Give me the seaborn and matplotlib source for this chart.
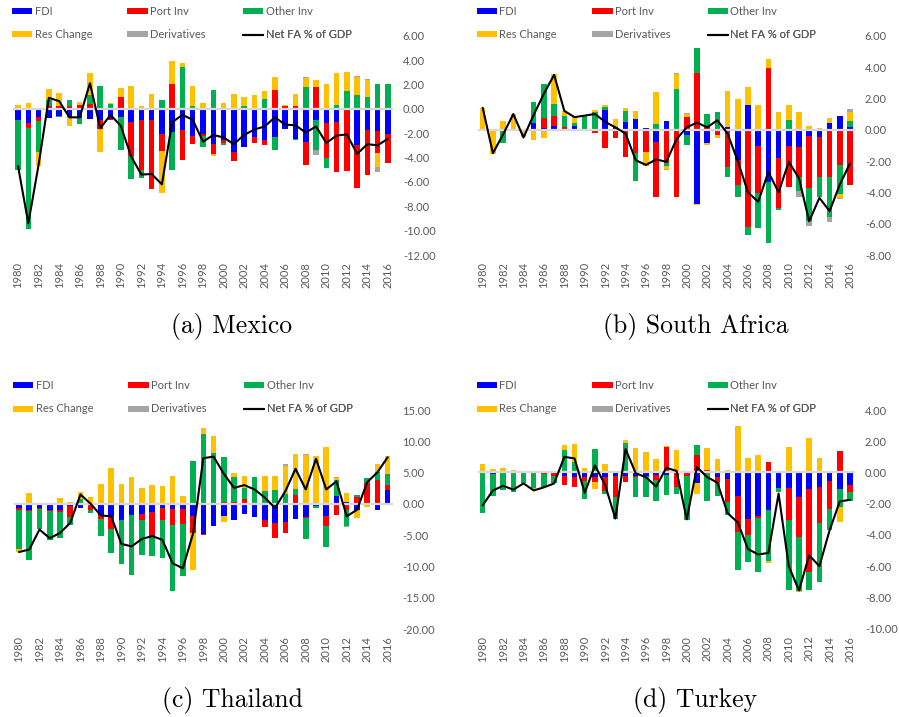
import numpy as np
import matplotlib
matplotlib.use("Agg")
import matplotlib.pyplot as plt
from matplotlib.patches import Patch
from matplotlib.lines import Line2D
import seaborn as sns

years = list(range(1980, 2017))

# ---------------- Mexico ----------------
mex_fdi = [-0.95, -1.2, -0.7, -0.75, -0.55, -0.7, -0.75, -0.8, -0.9, -0.8,
           -0.7, -1.1, -0.95, -0.9, -2.05, -1.9, -1.7, -2.2, -2.05, -2.9,
           -2.6, -3.55, -3.15, -2.3, -2.55, -2.3, -1.65, -2.45, -2.75, -0.9,
           -1.2, -1.1, 0.1, -2.95, -1.7, -1.85, -2.05]
mex_port = [0, -0.4, -0.33, 0.2, 0.2, 0.2, 0.35, 0.4, -0.75, -0.15,
            0.93, -2.8, -4.1, -5.7, -1.45, 2.0, -2.5, -0.7, -0.15, -0.85,
            -0.2, -0.7, 0, -0.5, -0.4, 1.55, 0.2, 0.2, -1.85, 1.75,
            -2.85, -4.1, -5.1, -3.55, -3.7, -1.8, -2.4]
mex_other = [-4.1, -8.3, -2.55, 0.5, -0.15, 0.5, -0.5, 0.7, 1.9, 0.4,
             -2.65, -1.85, -0.6, 0, 0.7, -3.15, 3.4, 0.2, -0.95, 1.55,
             -0.2, 0, 0.2, 0, 0.8, -1.05, 0, -0.15, 1.75, -2.45,
             -0.85, 0.35, 1.4, 1.1, 1.0, 2.05, 2.0]
mex_res = [0.3, 0.45, -1.15, 0.95, 1.1, -0.75, 0.17, 1.85, -1.9, 0.1,
           0.8, 1.85, 0.2, 1.25, -3.4, 1.9, 0.4, 1.7, 0.45, -0.1,
           0.5, 1.25, 0.75, 1.1, 0.65, 1.1, 0.15, 1.05, 0.8, 0.6,
           2.0, 2.6, 1.5, 1.55, 1.4, -1.15, 0]
mex_deriv = [0] * 28 + [0.1, -0.45, 0, 0, 0, 0.05, 0.05, -0.35, 0]
mex_net = [-4.7, -9.4, -4.6, 0.9, 0.63, -0.7, -0.7, 2.1, -1.6, -0.5,
           -1.4, -3.9, -5.4, -5.35, -6.2, -1.1, -0.5, -0.9, -2.7, -2.15,
           -2.35, -2.9, -2.15, -1.7, -1.45, -0.7, -1.3, -1.35, -1.95, -1.45,
           -2.8, -2.2, -2.1, -3.7, -2.9, -3.0, -2.45]

# ---------------- South Africa ----------------
zaf_fdi = [0, 0, 0, 0, 0, 0.4, 0.1, 0.25, -0.1, 0.25,
           0.05, 0, 1.25, 0.15, 0.5, 0.7, 0.1, -0.8, 0.55, 0,
           -0.35, -4.75, -0.85, 0, 0.2, -1.95, 1.6, -1.05, -3.35, -1.8,
           -1.05, -1.1, -0.4, -0.45, 0.4, 0.85, 0.2]
zaf_port = [0, 0, 0, 0, 0, 0, 0.65, 0.65, 0.2, -0.1,
            0, -0.2, -1.15, -0.5, -1.75, -1.5, -1.4, -3.5, -2.15, -4.3,
            0.8, 3.6, 0.15, -0.35, -2.4, -1.6, -6.2, -3.0, 3.95, -3.2,
            -2.6, -1.9, -3.3, -2.55, -3.05, -2.25, -3.55]
zaf_other = [0, -0.1, -0.85, 0, 0, 1.35, 2.15, 0.75, 0.7, 0.15,
             0.85, 1.15, 0.2, -0.05, 0.7, -1.75, -0.05, 0.35, -0.15, 2.6,
             -0.65, 1.6, 0.85, 1.1, -0.6, -0.75, -0.55, -2.2, -3.9, -0.15,
             0.6, -0.9, -2.1, -1.3, -2.5, -1.85, 0.35]
zaf_res = [1.4, -1.45, 0.55, 1.0, -0.45, -0.65, -0.5, 1.9, 0.3, 0.4,
           0, 0.1, 0.15, 0.55, 0.2, 0.5, -0.9, 2.05, -0.2, 0.95,
           0.2, -0.05, -0.1, -0.15, 2.3, 1.95, 1.15, 1.6, 0.55, 1.1,
           1.0, 1.1, 0.25, 0.1, 0.35, -0.25, 0.6]
zaf_deriv = [0] * 18 + [-0.1, 0.05, 0.05, 0, 0, 0, 0, 0, 0, 0, 0, 0,
                        0, -0.4, -0.35, 0, -0.35, -0.1, 0.2]
zaf_net = [1.4, -1.5, -0.3, 1.0, -0.5, 0.95, 2.3, 3.5, 1.2, 0.8,
           0.9, 1.0, 0.5, 0.15, -0.25, -1.95, -2.25, -1.9, -2.05, -0.6,
           0.15, 0.45, 0.15, 0.6, -0.25, -2.0, -4.0, -4.6, -2.7, -4.0,
           -2.05, -3.1, -5.85, -4.35, -5.2, -3.5, -2.15]

# ---------------- Thailand ----------------
tha_fdi = [-0.65, -0.95, -0.65, -0.95, -0.95, -0.35, -0.65, 0, -1.75, -2.15,
           -2.55, -1.85, -1.7, -1.35, -0.7, -0.9, -0.9, -2.0, -4.8, -3.55,
           -2.0, -2.65, -1.7, -2.15, -2.5, -3.05, -2.95, -2.4, -2.15, -0.4,
           -2.0, 1.3, 0.25, -0.95, -0.15, -1.05, 2.25]
tha_port = [-0.3, -0.2, -0.15, -0.25, -0.35, -1.75, 0, -0.95, -0.65, -1.85,
            0, 0, -0.85, -3.85, -1.85, -2.55, -2.3, -2.65, -0.1, 0,
            0.25, 0.35, 0.8, 0, -1.2, -2.45, -1.75, 1.35, -0.1, 0,
            -1.5, -1.75, -0.95, 1.05, 3.35, 3.75, 0.7]
tha_other = [-6.25, -7.9, -3.2, -4.5, -4.15, -1.35, 0.8, -0.5, -2.75, -3.85,
             -7.05, -9.45, -5.7, -3.1, -6.1, -10.55, -8.4, 6.8, 11.1, 8.15,
             7.3, 3.9, 1.7, 4.25, 2.0, 2.25, 1.6, 1.0, -3.4, -0.3,
             -3.45, 2.45, -2.65, 0.4, 0.75, 1.35, 1.75]
tha_res = [-0.55, 1.75, 0, 0.15, 0.95, 0.35, 1.05, 1.05, 3.2, 5.7,
           3.1, 4.35, 2.55, 2.95, 2.8, 4.4, 1.2, -5.95, 1.05, 2.75,
           -0.9, 0.75, 2.0, 0.1, 2.45, 2.15, 4.5, 5.65, 7.8, 7.7,
           9.05, 0.35, 1.45, -1.35, -0.4, 1.2, 2.9]
tha_deriv = [0] * 25 + [0.1, 0.25, 0, 0.1, 0, 0, 0.25, -0.1, 0, 0, 0, 0]
tha_net = [-7.7, -7.3, -4.1, -5.5, -4.65, -3.05, 1.5, 0.0, -1.85, -2.0,
           -6.4, -6.8, -5.6, -5.15, -5.75, -9.5, -10.3, -4.7, 7.3, 7.55,
           4.8, 2.55, 3.0, 2.3, 1.0, -0.65, 2.0, 5.6, 2.3, 7.2,
           2.3, 3.6, -2.0, -0.95, 3.45, 5.05, 7.45]

# ---------------- Turkey ----------------
tur_fdi = [0, -0.1, 0, 0, -0.05, 0, 0, 0, -0.2, -0.3,
           -0.3, -0.3, -0.3, -0.2, -0.2, -0.2, -0.2, -0.15, -0.15, 0,
           0, -0.7, 0, -0.3, -0.4, -1.5, -2.95, -2.8, -2.4, -1.0,
           -1.0, -1.6, -1.05, -0.9, -0.55, -1.05, -0.8]
tur_port = [0, 0, 0, 0, 0, 0, -0.1, -0.2, -0.6, -0.65,
            -0.25, -0.3, -0.9, -1.4, -0.4, -0.1, 0, -0.35, 1.65, -0.9,
            -0.25, 1.1, 0.15, -0.3, -1.5, -2.3, -1.05, -0.1, 0.7, 0,
            -2.05, -2.55, -5.3, -2.35, -1.8, 1.35, -0.45]
tur_other = [-2.6, -1.4, -1.15, -1.25, -0.65, -1.0, -0.85, -0.5, 1.45, 0.7,
             -1.15, 1.5, -0.15, -1.4, 1.9, -1.25, -1.4, -1.3, -1.3, -0.45,
             -2.8, 0.65, -1.85, -0.9, -0.8, -2.45, -1.75, -3.45, -3.25, -0.25,
             -4.5, -3.45, -1.15, -3.75, -1.3, -1.15, -0.6]
tur_res = [0.55, 0.25, 0.3, 0.15, 0.05, -0.1, 0.1, 0.1, 0.3, 1.15,
           0.3, -0.45, 0.55, 0.1, 0.2, 1.55, 1.3, 0.85, 0.05, 1.45,
           0.1, -0.7, 1.4, 0.85, 0.15, 2.95, 0.9, 1.1, -0.15, 0.05,
           1.65, -0.05, 2.2, 0.95, 0, -1.0, 0.1]
tur_deriv = [0] * 37
tur_net = [-2.1, -1.15, -0.85, -1.1, -0.7, -1.15, -0.95, -0.7, 1.0, 0.9,
           -1.3, 0.45, -0.8, -2.95, 1.5, -0.05, -0.3, -0.9, 0.3, 0.1,
           -3.0, 0.35, -0.3, -0.65, -2.6, -3.2, -4.9, -5.25, -5.15, -1.35,
           -6.0, -7.55, -5.3, -6.0, -3.7, -1.85, -1.75]

components = ["FDI", "Port Inv", "Other Inv", "Res Change", "Derivatives"]
colors = ["#0000FF", "#FF0000", "#00B050", "#FFC000", "#A5A5A5"]
line_label = "Net FA % of GDP"

panels = [
    dict(title="(a) Mexico", comps=[mex_fdi, mex_port, mex_other, mex_res, mex_deriv],
         net=mex_net, ylim=(-12, 6), step=2,
         box=(12.9, 393.1, 35.7, 255.0)),
    dict(title="(b) South Africa", comps=[zaf_fdi, zaf_port, zaf_other, zaf_res, zaf_deriv],
         net=zaf_net, ylim=(-8, 6), step=2,
         box=(477.6, 855.1, 35.7, 255.0)),
    dict(title="(c) Thailand", comps=[tha_fdi, tha_port, tha_other, tha_res, tha_deriv],
         net=tha_net, ylim=(-20, 15), step=5,
         box=(13.9, 392.8, 410.0, 629.0)),
    dict(title="(d) Turkey", comps=[tur_fdi, tur_port, tur_other, tur_res, tur_deriv],
         net=tur_net, ylim=(-10, 4), step=2,
         box=(477.6, 855.1, 410.0, 628.7)),
]

sns.set_theme(style="white")
plt.rcParams["font.family"] = ["Lato", "DejaVu Sans"]

W, H = 899, 717
DPI = 100
fig = plt.figure(figsize=(W / DPI, H / DPI), dpi=DPI)
fig.patch.set_facecolor("white")

TXT = "#595959"
TICK_PT = 8
LEG_PT = 8


def fx(px):
    return px / W


def fy(py):
    return 1 - py / H


labels = [str(y) for y in years]
n = len(years)

for p in panels:
    left, right, top, bottom = p["box"]
    ax = fig.add_axes([fx(left), fy(bottom), fx(right) - fx(left), fy(top) - fy(bottom)])

    # stacked bars: positives pile up from zero, negatives pile down from zero
    pos_base = np.zeros(n)
    neg_base = np.zeros(n)
    for vals, col in zip(p["comps"], colors):
        v = np.asarray(vals, dtype=float)
        base = np.where(v >= 0, pos_base, neg_base)
        sns.barplot(x=labels, y=v, order=labels, color=col, saturation=1,
                    width=0.54, errorbar=None, bottom=base, linewidth=0,
                    ax=ax, zorder=1)
        pos_base += np.clip(v, 0, None)
        neg_base += np.clip(v, None, 0)

    ax.axhline(0, color="#D9D9D9", lw=1.6, zorder=1.5)
    sns.lineplot(x=np.arange(n), y=p["net"], color="black", linewidth=1.5,
                 ax=ax, zorder=3)

    lo, hi = p["ylim"]
    ax.set_ylim(lo, hi)
    ax.set_xlim(-0.5, n - 0.5)
    yt = np.arange(lo, hi + 0.001, p["step"])
    ax.set_yticks(yt)
    ax.set_yticklabels([f"{t:.2f}" for t in yt])
    ax.yaxis.tick_right()
    ax.set_xticks(np.arange(0, n, 2))
    ax.set_xticklabels(labels[::2], rotation=90)
    ax.tick_params(axis="both", length=0, labelsize=TICK_PT, labelcolor=TXT)
    ax.tick_params(axis="y", pad=7)
    ax.tick_params(axis="x", pad=5)
    ax.set_xlabel("")
    ax.set_ylabel("")
    for s in ax.spines.values():
        s.set_visible(False)
    ax.grid(False)
    ax.set_facecolor("none")

    # legend: three columns, two rows above the plot
    handles = [Patch(facecolor=c, edgecolor="none") for c in colors]
    handles.append(Line2D([], [], color="black", lw=1.5))
    names = components + [line_label]
    row_y = [top - 24.5, top - 1.0]
    col_x = [left - 1.0, left + 114.5, left + 230.0]
    order = [(0, 0), (0, 1), (0, 2), (1, 0), (1, 1), (1, 2)]
    for (r, c), h, name in zip(order, handles, names):
        leg = ax.legend(handles=[h], labels=[name], loc="center left",
                        bbox_to_anchor=(fx(col_x[c]), fy(row_y[r])),
                        bbox_transform=fig.transFigure, frameon=False,
                        fontsize=LEG_PT, labelcolor=TXT, borderpad=0,
                        borderaxespad=0, handlelength=1.85, handleheight=0.45,
                        handletextpad=0.2)
        ax.add_artist(leg)

    cx = (left + right) / 2 + 29
    fig.text(fx(cx), fy(bottom + 78), p["title"], ha="center", va="baseline",
             family="cmr10", fontsize=18.5, color="black")

fig.savefig("out.png", dpi=DPI, facecolor="white")
